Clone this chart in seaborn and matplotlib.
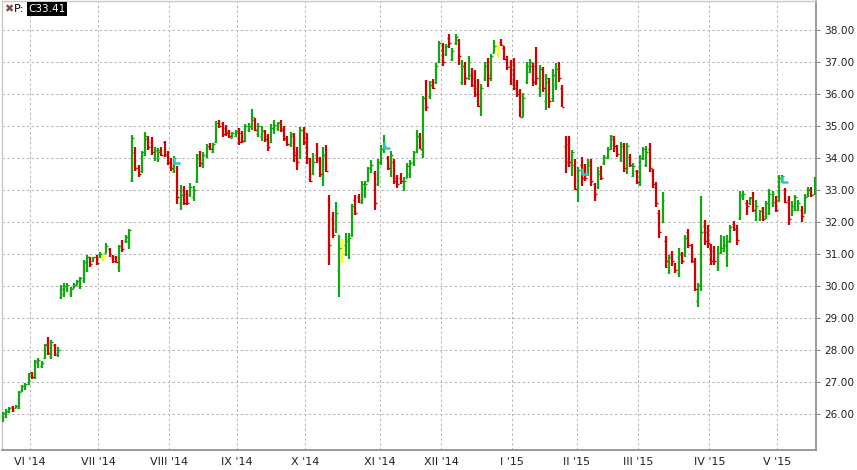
import numpy as np
import pandas as pd
import matplotlib
matplotlib.use("Agg")
import matplotlib.pyplot as plt
from matplotlib.path import Path
from matplotlib.ticker import FormatStrFormatter
import seaborn as sns

# ── data: daily OHLC, NYSE sessions 19 May 2014 .. 18 May 2015 ──────────────
START, END = "2014-05-19", "2015-05-18"
HOLIDAYS = ["2014-05-26", "2014-07-04", "2014-09-01", "2014-11-27", "2014-12-25",
            "2015-01-01", "2015-01-19", "2015-02-16", "2015-04-03"]

opens = [
    25.80, 25.92, 26.06, 26.22, 26.20, 26.20, 26.75, 26.80, 26.95,  # V 14
    27.28, 27.15, 27.60, 27.50, 27.76, 28.20, 27.80, 28.15, 27.85, 29.65, 29.75, 29.90, 29.75, 29.95, 30.05, 30.00, 30.20, 30.50, 30.90, 30.80, 30.92,
    30.90, 30.95, 31.05, 31.15, 30.90, 30.92, 30.60, 31.40, 31.40, 31.40, 33.32, 34.20, 33.70, 33.60, 34.10, 34.60, 34.50, 34.00, 34.00, 34.25, 34.50, 34.15,
    33.90, 33.60, 33.70, 32.60, 33.00, 32.90, 32.90, 32.80, 33.30, 34.10, 33.80, 34.05, 34.40, 34.20, 34.50, 35.15, 35.10, 34.95, 34.85, 34.65, 34.70,
    34.85, 34.80, 34.55, 34.90, 35.00, 35.20, 34.75, 34.70, 34.85, 34.70, 34.50, 34.90, 34.95, 35.15, 34.95, 34.60, 34.45, 34.70, 34.20, 34.00, 34.90,
    34.50, 33.90, 33.50, 34.10, 34.00, 33.50, 34.10, 32.60, 32.10, 31.80, 30.50, 30.80, 31.30, 31.00, 31.60, 32.70, 32.80, 32.70, 32.90, 33.30, 33.60, 33.55, 33.20,
    33.85, 34.30, 34.00, 33.80, 33.90, 33.40, 33.40, 33.15, 33.40, 33.50, 33.90, 34.20, 34.70, 34.15, 35.90, 35.95, 36.40, 36.40, 37.00,
    37.40, 37.25, 37.75, 37.10, 37.60, 37.70, 36.40, 36.90, 36.50, 36.60, 36.50, 36.20, 35.60, 36.50, 37.00, 36.60, 37.30, 37.40, 37.65, 37.45, 37.10, 36.90,
    37.00, 36.30, 36.10, 35.30, 36.40, 36.70, 36.90, 36.90, 36.20, 36.80, 35.80, 36.40, 35.90, 36.30, 36.80, 36.20, 34.40, 34.45, 33.80, 33.80,
    33.00, 33.80, 33.70, 33.50, 33.90, 33.20, 33.10, 33.60, 33.85, 34.00, 34.40, 34.60, 34.40, 34.00, 34.40, 33.60, 34.05, 33.45, 33.60,
    33.20, 34.00, 33.80, 34.30, 33.60, 33.10, 32.30, 32.00, 31.40, 30.60, 31.00, 30.70, 30.40, 31.00, 31.00, 31.70, 31.30, 30.80, 29.55, 30.00, 31.90, 31.70,
    31.20, 31.10, 30.60, 31.05, 31.10, 30.90, 31.40, 31.95, 31.80, 32.15, 32.80, 32.60, 32.60, 32.80, 32.40, 32.10, 32.45, 32.20, 32.30, 32.60, 32.65,
    32.70, 33.30, 33.00, 32.70, 32.25, 32.40, 32.40, 32.40, 32.30, 32.85, 33.05, 32.90,
]
highs = [
    26.06, 26.16, 26.22, 26.26, 26.29, 26.73, 26.92, 26.97, 27.30,
    27.33, 27.70, 27.75, 27.65, 28.20, 28.42, 28.32, 28.20, 28.10, 30.04, 30.10, 30.10, 29.97, 30.10, 30.20, 30.30, 30.82, 30.97, 30.92, 30.92, 30.97,
    31.06, 31.03, 31.36, 31.20, 30.97, 30.95, 31.30, 31.45, 31.60, 31.78, 34.73, 34.36, 33.79, 34.24, 34.81, 34.70, 34.66, 34.36, 34.31, 34.34, 34.55, 34.24,
    34.00, 34.07, 33.76, 33.17, 33.14, 33.00, 33.22, 33.14, 34.14, 34.24, 34.20, 34.45, 34.47, 34.49, 35.18, 35.20, 35.15, 35.04, 34.90, 34.83, 34.90,
    34.94, 34.86, 35.07, 35.09, 35.53, 35.25, 35.09, 35.01, 34.89, 34.76, 35.07, 35.20, 35.15, 35.20, 35.01, 34.70, 34.82, 34.78, 34.34, 34.99, 34.97,
    34.80, 34.00, 34.18, 34.49, 34.03, 34.36, 34.42, 32.85, 32.32, 32.63, 31.60, 31.47, 31.67, 31.67, 32.58, 32.85, 32.87, 33.30, 33.28, 33.73, 33.95, 33.60, 33.97,
    34.43, 34.73, 34.08, 34.23, 33.98, 33.48, 33.53, 33.43, 33.85, 33.95, 34.23, 34.88, 34.78, 35.95, 36.45, 36.42, 36.48, 36.99, 37.67,
    37.59, 37.57, 37.88, 37.44, 37.88, 37.73, 37.07, 37.02, 37.20, 36.81, 36.76, 36.47, 36.32, 37.02, 37.12, 37.26, 37.70, 37.57, 37.73, 37.51, 37.20, 37.06,
    37.12, 36.45, 36.16, 36.05, 37.00, 37.09, 36.99, 37.47, 36.91, 36.84, 36.63, 36.50, 36.78, 36.99, 37.02, 36.30, 34.70, 34.70, 34.26, 33.97,
    33.72, 34.03, 33.82, 33.97, 33.97, 33.22, 33.72, 33.76, 34.10, 34.34, 34.73, 34.70, 34.42, 34.52, 34.47, 34.47, 34.14, 33.84, 33.64,
    34.10, 34.34, 34.39, 34.47, 33.66, 33.27, 32.39, 32.95, 31.57, 30.98, 31.11, 30.72, 31.19, 31.08, 31.60, 31.79, 31.32, 30.88, 30.10, 32.81, 32.08, 31.93,
    31.32, 31.25, 31.25, 31.59, 31.56, 31.61, 31.93, 32.05, 31.93, 32.99, 32.99, 32.71, 32.80, 32.95, 32.71, 32.40, 32.47, 32.68, 33.05, 32.99, 32.83,
    33.49, 33.49, 33.07, 32.81, 32.66, 32.86, 32.71, 32.50, 32.89, 33.10, 33.10, 33.42,
]
lows = [
    25.77, 25.88, 26.03, 26.08, 26.19, 26.17, 26.69, 26.76, 26.92,
    27.09, 27.10, 27.44, 27.44, 27.74, 27.84, 27.74, 27.82, 27.80, 29.60, 29.68, 29.83, 29.68, 29.94, 30.03, 29.90, 30.10, 30.46, 30.60, 30.77, 30.66,
    30.88, 30.80, 31.03, 30.92, 30.72, 30.72, 30.46, 31.06, 31.36, 31.18, 33.27, 33.61, 33.41, 33.55, 34.07, 34.26, 34.10, 33.93, 33.90, 34.07, 34.05, 33.79,
    33.61, 33.55, 32.57, 32.39, 32.54, 32.54, 32.80, 32.68, 33.24, 33.74, 33.69, 34.00, 34.26, 34.18, 34.47, 34.94, 34.66, 34.70, 34.63, 34.63, 34.68,
    34.42, 34.47, 34.52, 34.83, 34.89, 34.86, 34.68, 34.55, 34.52, 34.24, 34.47, 34.76, 34.86, 34.83, 34.55, 34.39, 34.36, 33.90, 33.64, 33.97, 34.42,
    33.82, 33.27, 33.48, 33.86, 33.43, 33.14, 33.58, 30.67, 31.50, 31.67, 29.65, 30.74, 30.94, 30.86, 31.55, 32.22, 32.60, 32.58, 32.77, 33.27, 33.53, 32.38, 33.12,
    33.78, 34.17, 33.64, 33.43, 33.20, 33.08, 33.20, 32.99, 33.38, 33.38, 33.77, 34.18, 34.28, 34.02, 35.49, 35.85, 36.16, 36.33, 36.97,
    36.88, 37.20, 37.44, 37.05, 37.54, 36.92, 36.29, 36.29, 36.45, 36.24, 35.93, 35.60, 35.33, 36.43, 36.24, 36.43, 37.28, 37.18, 37.51, 37.07, 36.76, 36.29,
    36.14, 35.93, 35.28, 35.28, 36.33, 36.68, 36.26, 36.29, 35.93, 36.08, 35.51, 35.56, 35.77, 36.14, 36.39, 35.59, 33.53, 33.74, 33.45, 33.01,
    32.65, 33.14, 33.30, 33.45, 33.14, 32.68, 33.04, 33.32, 33.79, 33.97, 34.26, 34.21, 34.05, 33.90, 33.58, 33.51, 33.74, 33.43, 33.20,
    33.14, 33.95, 33.74, 33.58, 33.08, 32.49, 31.52, 31.97, 30.58, 30.38, 30.64, 30.43, 30.30, 30.70, 30.93, 31.21, 30.74, 29.86, 29.34, 29.84, 31.30, 31.20,
    30.66, 30.68, 30.47, 31.00, 31.07, 30.59, 31.35, 31.72, 31.28, 32.08, 32.71, 32.22, 32.55, 32.32, 32.05, 32.03, 32.03, 32.10, 32.24, 32.47, 32.32,
    32.64, 33.26, 32.60, 31.93, 32.21, 32.34, 32.36, 32.01, 32.29, 32.78, 32.78, 32.86,
]
closes = [
    26.03, 26.10, 26.20, 26.12, 26.27, 26.70, 26.88, 26.95, 27.28,
    27.15, 27.65, 27.70, 27.60, 28.15, 27.90, 28.25, 27.88, 28.00, 29.92, 30.00, 30.05, 29.90, 30.05, 30.15, 30.25, 30.75, 30.90, 30.70, 30.90, 30.72,
    31.00, 30.95, 31.25, 31.00, 30.80, 30.75, 31.25, 31.15, 31.55, 31.75, 34.62, 33.70, 33.50, 34.20, 34.70, 34.35, 34.20, 34.25, 34.20, 34.10, 34.10, 33.85,
    33.70, 34.00, 32.80, 32.85, 32.60, 32.60, 33.10, 33.00, 34.00, 33.85, 34.10, 34.35, 34.30, 34.45, 35.10, 35.00, 34.75, 34.80, 34.70, 34.80, 34.85,
    34.50, 34.55, 35.00, 35.00, 35.30, 34.90, 35.00, 34.90, 34.60, 34.35, 34.95, 35.05, 35.10, 34.90, 34.65, 34.45, 34.75, 34.10, 33.90, 34.90, 34.50,
    34.00, 33.30, 33.90, 33.95, 33.50, 34.10, 33.60, 31.30, 31.60, 32.30, 31.20, 30.80, 31.40, 31.50, 32.50, 32.30, 32.65, 33.20, 33.20, 33.70, 33.80, 32.60, 33.90,
    34.30, 34.40, 33.70, 34.10, 33.30, 33.20, 33.30, 33.30, 33.75, 33.85, 34.20, 34.70, 34.30, 35.90, 35.60, 36.30, 36.20, 36.90, 37.60,
    37.00, 37.50, 37.60, 37.35, 37.80, 37.20, 36.90, 36.50, 37.00, 36.30, 36.00, 35.65, 36.20, 36.90, 36.50, 37.20, 37.50, 37.40, 37.55, 37.10, 36.85, 36.40,
    36.20, 36.00, 35.30, 35.90, 36.90, 37.00, 36.40, 36.50, 36.80, 36.20, 36.50, 35.80, 36.60, 36.80, 36.50, 35.60, 33.90, 33.90, 34.20, 33.05,
    33.65, 33.40, 33.40, 33.80, 33.30, 32.90, 33.50, 33.40, 34.05, 34.30, 34.70, 34.40, 34.15, 34.45, 33.70, 34.40, 33.80, 33.75, 33.25,
    34.00, 34.30, 34.20, 33.70, 33.20, 32.60, 31.70, 32.70, 30.80, 30.90, 30.80, 30.50, 31.00, 30.80, 31.50, 31.30, 30.80, 29.90, 30.05, 31.70, 31.40, 31.35,
    30.80, 30.80, 31.05, 31.20, 31.30, 31.40, 31.85, 31.80, 31.45, 32.85, 32.90, 32.50, 32.75, 32.40, 32.50, 32.35, 32.10, 32.60, 32.90, 32.90, 32.40,
    33.40, 33.45, 32.65, 32.10, 32.50, 32.80, 32.60, 32.20, 32.80, 33.00, 32.85, 33.41,
]

# dividend (ex-date) markers
div_dates = ["2014-08-04", "2014-11-04", "2015-02-03", "2015-05-04"]
div_levels = [33.85, 34.33, 33.51, 33.26]

ROMAN = ["I", "II", "III", "IV", "V", "VI", "VII", "VIII", "IX", "X", "XI", "XII"]
GREEN, RED, YELLOW, CYAN = "#12a812", "#d40000", "#ffff00", "#2cc8c8"

# ── frame ─────────────────────────────────────────────────────────────────────
dates = pd.bdate_range(START, END)
dates = dates[~dates.isin(pd.to_datetime(HOLIDAYS))]
df = pd.DataFrame({"date": dates, "open": opens, "high": highs,
                   "low": lows, "close": closes})
df["x"] = np.arange(len(df))
df["color"] = np.where(df.close > df.open, GREEN,
                       np.where(df.close < df.open, RED, YELLOW))

month_start = df.index[df.date.dt.month != df.date.dt.month.shift()][1:]
grid_x = df.x[month_start].values - 0.5
grid_lbl = [f"{ROMAN[d.month - 1]} '{d:%y}" for d in df.date[month_start]]

# ── plot ──────────────────────────────────────────────────────────────────────
sns.set_theme(style="white")
plt.rcParams["font.family"] = ["DejaVu Sans"]

fig = plt.figure(figsize=(8.57, 4.70), dpi=100)
ax = fig.add_axes([2 / 857, 20 / 470, 814 / 857, 449 / 470])

ax.vlines(df.x, df.low, df.high, colors=df.color, lw=1.6, zorder=3)
ax.hlines(df.open, df.x - 0.6, df.x, colors=df.color, lw=1.0, zorder=3)
ax.hlines(df.close, df.x, df.x + 0.6, colors=df.color, lw=1.0, zorder=3)

# L-shaped dividend marks
lmark = Path([(0, 1), (0, 0), (1, 0)], [Path.MOVETO, Path.LINETO, Path.LINETO])
div_x = df.set_index("date").loc[pd.to_datetime(div_dates), "x"].values
ax.plot(div_x, div_levels, ls="none", marker=lmark, markersize=9,
        mec=CYAN, mfc="none", mew=1.8, zorder=4)

ax.set_xlim(-0.25, 251.45)
ax.set_ylim(24.884, 38.916)

ax.set_xticks(grid_x)
ax.set_xticklabels(grid_lbl)
ax.set_yticks(np.arange(26, 39))
ax.yaxis.set_major_formatter(FormatStrFormatter("%.2f"))
ax.yaxis.tick_right()
ax.tick_params(axis="x", length=0, pad=5, labelsize=8, colors="#222222")
ax.tick_params(axis="y", length=3, width=0.8, pad=3, labelsize=7.6,
               colors="#222222")
ax.tick_params(axis="y", color="#909090")

ax.grid(True, color="#b4b4b4", lw=0.7, ls=(0, (2.5, 2.5)))
ax.set_axisbelow(True)

for side in ["left", "top"]:
    ax.spines[side].set_color("#c8c8c8")
    ax.spines[side].set_linewidth(1.0)
for side in ["right", "bottom"]:
    ax.spines[side].set_color("#8a8a8a")
    ax.spines[side].set_linewidth(1.2)

# header legend
ytop = 1 - 9 / 470
fig.text(4 / 857, ytop, "✖", color="#7e4a4a", fontsize=8, va="center")
fig.text(14 / 857, ytop, "P:", color="black", fontsize=8, va="center")
fig.text(28.5 / 857, ytop, f"C{closes[-1]:.2f}", color="white", fontsize=7.5,
         va="center", bbox=dict(facecolor="black", edgecolor="none", pad=1.2))

fig.savefig("out.png", dpi=100)
